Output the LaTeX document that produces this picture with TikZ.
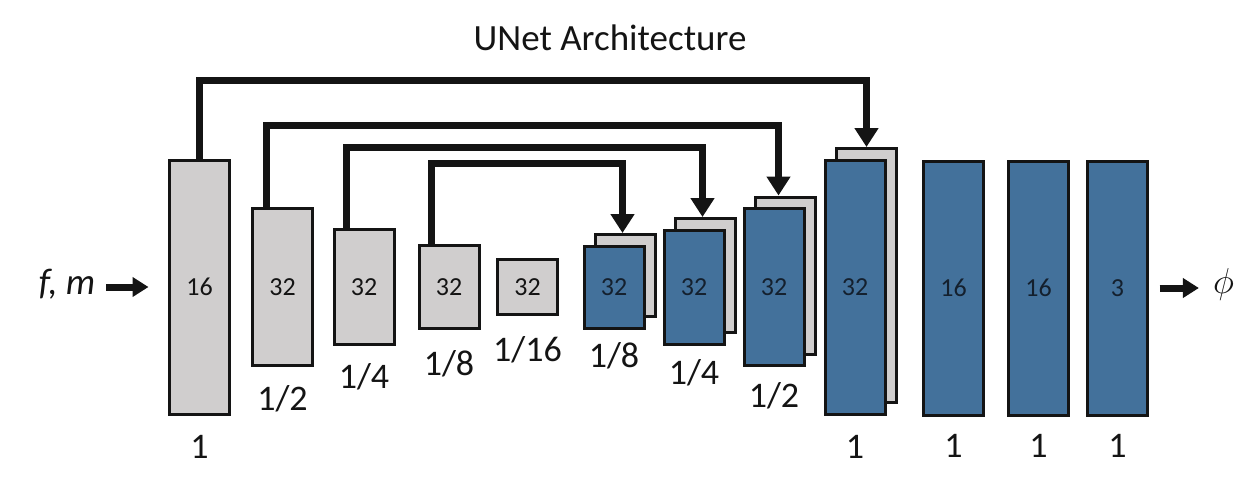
\RequirePackage{fix-cm}
\documentclass[tikz,border=0pt]{standalone}
\usepackage{fontspec}
\setmainfont{Carlito}
\usepackage{xcolor}
\usepackage{tikz}
\usetikzlibrary{positioning, arrows.meta, calc}
\definecolor{unInk}{HTML}{141414}
\definecolor{unNavy}{HTML}{14202E}
\definecolor{unGray}{HTML}{D0CECE}
\definecolor{unBlue}{HTML}{43719B}
\tikzset{
  blk/.style ={draw=unInk, line width=3pt, minimum width=60pt, inner sep=0pt, font=\fontsize{26}{30}\selectfont},
  enc/.style ={blk, fill=unGray, text=unInk},
  dec/.style ={blk, fill=unBlue, text=unNavy},
  lvl/.style ={inner sep=0pt, anchor=base, font=\fontsize{36}{40}\selectfont, text=unInk},
  skip/.style={-{Triangle[width=23pt,length=19pt]}, line width=7pt, unInk},
  io/.style  ={-{Triangle[width=19pt,length=16pt]}, line width=7pt, unInk},
}

\begin{document}
\begin{tikzpicture}[x=1pt, y=-1pt]
\useasboundingbox (0,0) rectangle (1246,482);
\def\cy{287}    % common centre line
\def\dx{11.5}   % offset of the copied sheet

% title
\node[font=\fontsize{37}{44}\selectfont, text=unInk] (title) at (610,38) {UNet Architecture};

% ---- encoder (gray) ----
\foreach \n/\x/\h/\c/\s/\d in {e1/199.5/254/16/1/43, e2/282.5/157/32/{1/2}/43,
    e3/364/115/32/{1/4}/42, e4/449/83/32/{1/8}/45, e5/527.5/55/32/{1/16}/45}{
  \node[enc, minimum height=\h] (\n) at (\x,\cy) {\c};
  \node[lvl] (l\n) at ([yshift=-\d pt]\n.south) {\s};
}

% ---- decoder (blue, with skipped copy behind) ----
\foreach \n/\x/\h/\s/\d in {1/614/82/{1/8}/38, 2/694/114/{1/4}/39,
    3/774/157/{1/2}/40, 4/855/254/1/43}{
  \node[enc, minimum height=\h] (b\n) at (\x+\dx,\cy-\dx) {};
  \node[dec, minimum height=\h] (d\n) at (\x,\cy) {32};
  \node[lvl] (ld\n) at ([yshift=-\d pt]d\n.south) {\s};
}
\foreach \n/\x/\c in {5/953.5/16, 6/1038.5/16, 7/1117.5/3}{
  \node[dec, minimum height=254] (d\n) at (\x,\cy+1) {\c};
  \node[lvl] (ld\n) at ([yshift=-41pt]d\n.south) {1};
}

% ---- skip connections ----
\coordinate (lane1) at (0,80);
\coordinate (lane2) at (0,125);
\coordinate (lane3) at (0,147);
\coordinate (lane4) at (0,163);
\draw[skip] (e1.north) -- (e1.north |- lane1) -| (b4.north);
\draw[skip] ([xshift=15pt]e2.north west) -- ([xshift=15pt]e2.north west |- lane2) -| ([xshift=-7pt]b3.north);
\draw[skip] ([xshift=14pt]e3.north west) -- ([xshift=14pt]e3.north west |- lane3) -| ([xshift=-3pt]b2.north);
\draw[skip] ([xshift=14pt]e4.north west) -- ([xshift=14pt]e4.north west |- lane4) -| ([xshift=-3pt]b1.north);

% ---- input / output ----
\node[inner sep=0pt, font=\fontsize{37}{44}\selectfont\itshape, text=unInk] (fm) at (67,284) {f, m};
\node[inner sep=0pt, font=\fontsize{36}{40}\selectfont, text=unInk] (phi) at (1223.5,284) {$\phi$};
\draw[io, shorten <=11pt, shorten >=19.5pt] (fm.east |- e1.west) -- (e1.west);
\draw[io, shorten <=10.5pt, shorten >=14pt] (d7.east) -- (phi.west |- d7.east);
\end{tikzpicture}
\end{document}
